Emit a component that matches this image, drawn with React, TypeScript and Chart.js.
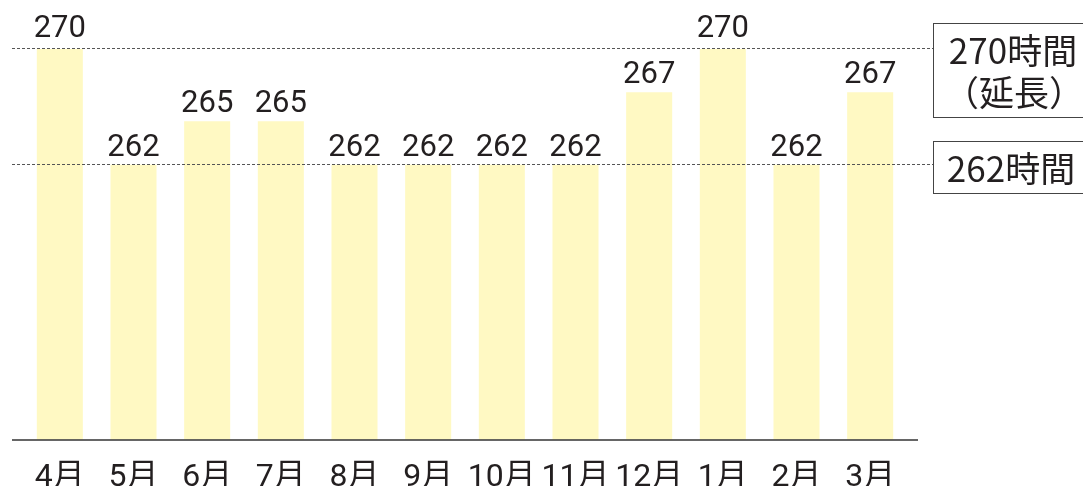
import React, { useEffect, useRef } from 'react';
import { Chart, registerables } from 'chart.js';

Chart.register(...registerables);

const months = ['4月', '5月', '6月', '7月', '8月', '9月', '10月', '11月', '12月', '1月', '2月', '3月'];
const hours = [270, 262, 265, 265, 262, 262, 262, 262, 267, 270, 262, 267];
const refLines = [270, 262];
const refLabels = [['270時間', '（延長）'], ['262時間']];

const FONT = 'Roboto, "Noto Sans CJK JP", sans-serif';
const BOX_FONT = '"Noto Sans CJK JP", sans-serif';
const TEXT = '#231f20';

const overlay = {
  id: 'overlay',
  afterDraw(chart: any) {
    const ctx = chart.ctx as CanvasRenderingContext2D;
    const area = chart.chartArea;
    const ys = chart.scales.y;
    ctx.save();

    // baseline
    ctx.strokeStyle = '#333';
    ctx.lineWidth = 1.5;
    ctx.beginPath();
    ctx.moveTo(12, area.bottom + 0.5);
    ctx.lineTo(918, area.bottom + 0.5);
    ctx.stroke();

    // dashed reference lines
    ctx.strokeStyle = '#555';
    ctx.lineWidth = 1;
    ctx.setLineDash([3, 2]);
    refLines.forEach((v) => {
      const y = Math.round(ys.getPixelForValue(v)) - 0.5;
      ctx.beginPath();
      ctx.moveTo(12, y);
      ctx.lineTo(933, y);
      ctx.stroke();
    });
    ctx.setLineDash([]);

    // value labels
    ctx.fillStyle = TEXT;
    ctx.font = `31px ${FONT}`;
    ctx.textAlign = 'center';
    ctx.textBaseline = 'alphabetic';
    const meta = chart.getDatasetMeta(0);
    meta.data.forEach((bar: any, i: number) => {
      const off = hours[i] === 270 ? 12 : 9;
      ctx.fillText(String(hours[i]), bar.x, bar.y - off);
    });

    // boxes
    ctx.strokeStyle = '#444';
    ctx.lineWidth = 1;
    const y1 = ys.getPixelForValue(refLines[0]);
    const y2 = ys.getPixelForValue(refLines[1]);
    ctx.strokeRect(933.5, Math.round(y1 - 26) + 0.5, 200, 94);
    ctx.strokeRect(933.5, Math.round(y2 - 24) + 0.5, 200, 52);

    ctx.font = `35px ${BOX_FONT}`;
    ctx.textBaseline = 'middle';
    ctx.fillText(refLabels[0][0], 1013, y1 + 2);
    ctx.fillText(refLabels[0][1], 1014, y1 + 44);
    ctx.fillText(refLabels[1][0], 1011, y2 + 4);

    ctx.restore();
  },
};

export default function App() {
  const ref = useRef<HTMLCanvasElement>(null);

  useEffect(() => {
    document.body.style.margin = '0';
    if (!ref.current) return;
    const chart = new Chart(ref.current, {
      type: 'bar',
      data: {
        labels: months,
        datasets: [
          {
            data: hours,
            backgroundColor: '#fff9c3',
            borderWidth: 0,
            categoryPercentage: 1,
            barPercentage: 0.625,
          },
        ],
      },
      options: {
        animation: false,
        responsive: true,
        maintainAspectRatio: false,
        layout: { padding: { left: 23, right: 176, top: 20, bottom: -30 } },
        plugins: { legend: { display: false }, tooltip: { enabled: false } },
        scales: {
          x: {
            grid: { display: false, drawTicks: false },
            border: { display: false },
            ticks: {
              color: TEXT,
              font: { family: FONT, size: 32 },
              padding: 19,
              maxRotation: 0,
              autoSkip: false,
            },
          },
          y: { display: false, min: 243, max: 272 },
        },
      },
      plugins: [overlay],
    });
    return () => chart.destroy();
  }, []);

  return (
    <div style={{ position: 'relative', width: 1083, height: 486 }}>
      <canvas ref={ref} />
    </div>
  );
}
